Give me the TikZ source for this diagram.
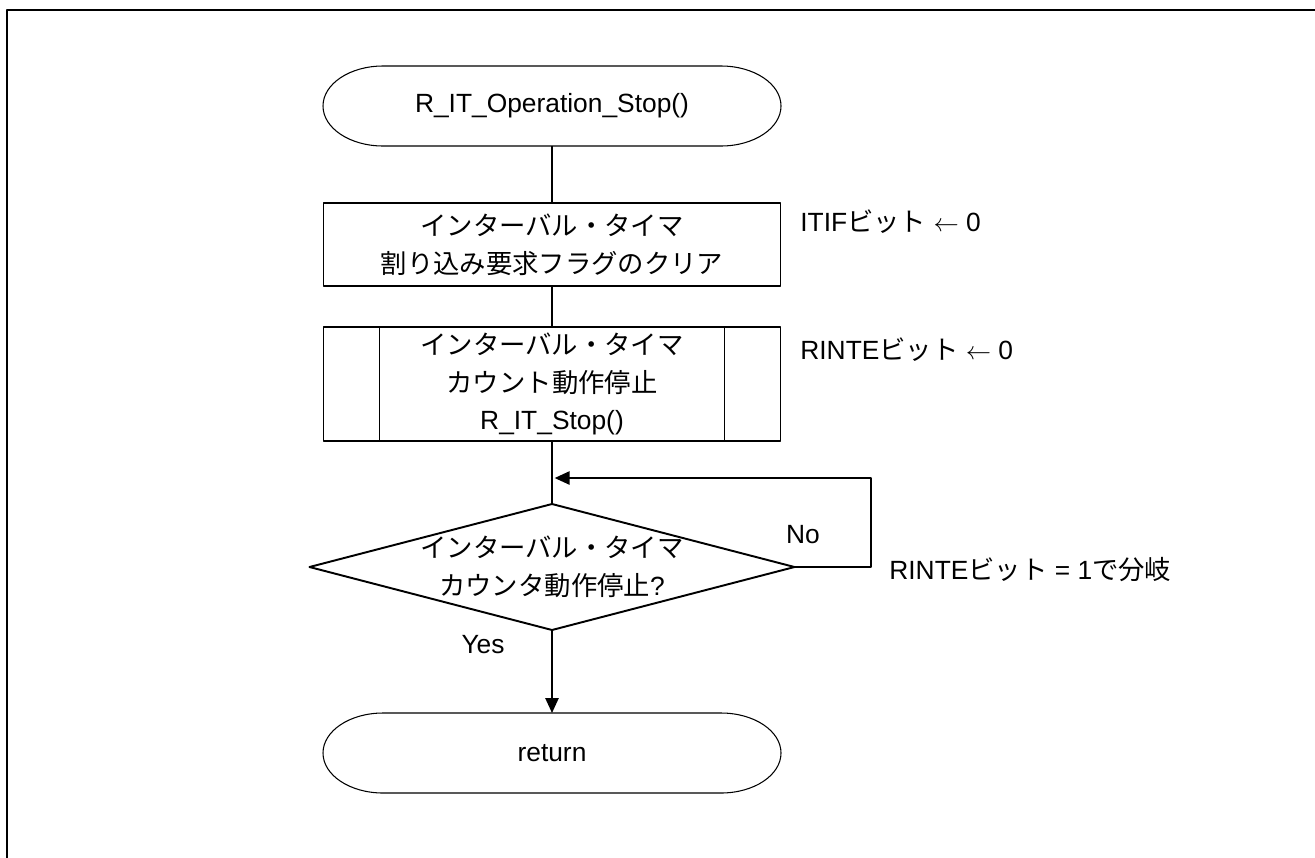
\documentclass[tikz,border=0pt]{standalone}
\usepackage{fontspec}
\setmainfont{Liberation Sans}
\newfontfamily\jp{Noto Sans CJK JP}
\usetikzlibrary{arrows.meta}

% start/end symbol: straight top and bottom, elliptic ends
\newcommand{\termnode}[3]{%
	\node[term] (#1) at (#2) {#3};
	\draw[line width=0.6pt] ([xshift=1.2cm]#1.north west) -- ([xshift=-1.2cm]#1.north east)
		arc[start angle=90,end angle=-90,x radius=1.2cm,y radius=0.8cm]
		-- ([xshift=1.2cm]#1.south west)
		arc[start angle=270,end angle=90,x radius=1.2cm,y radius=0.8cm] -- cycle;}

\begin{document}
\begin{tikzpicture}[>={Triangle[length=8.5pt,width=7.5pt]}, line join=round, font=\fontsize{15}{21.5}\selectfont,
	term/.style={minimum width=9.16cm, minimum height=1.6cm, inner sep=0pt, outer sep=0pt},
	proc/.style={draw, line width=1.1pt, minimum width=9.14cm, align=center, outer sep=0pt},
	dtext/.style={minimum width=9.7cm, minimum height=2.52cm, align=center, inner sep=0pt, outer sep=0pt},
	line/.style={line width=1.1pt},
	note/.style={anchor=west, inner sep=0pt}]
	\def\cx{11.04}
	\useasboundingbox (0,0) rectangle (26.3,-17.14);
	\draw[line width=1.7pt] (0.14,-17.4) -- (0.14,-0.2) -- (26.6,-0.2);
	
	\termnode{start}{\cx,-2.12}{R\_IT\_Operation\_Stop()}
	\node[proc, minimum height=1.66cm] (clr) at (\cx,-4.89) {{\jp インターバル・タイマ}\\{\jp 割り込み要求フラグのクリア}};
	\node[proc, minimum height=2.28cm] (stp) at (\cx,-7.68) {{\jp インターバル・タイマ}\\{\jp カウント動作停止}\\R\_IT\_Stop()};
	\draw[line] ([xshift=1.12cm]stp.north west) -- ([xshift=1.12cm]stp.south west)
		([xshift=-1.12cm]stp.north east) -- ([xshift=-1.12cm]stp.south east);
	\node[dtext] (chk) at (\cx,-11.34) {{\jp インターバル・タイマ}\\{\jp カウンタ動作停止}?};
	\draw[line] (chk.north) -- (chk.east) -- (chk.south) -- (chk.west) -- cycle;
	\termnode{ret}{\cx,-15.06}{return}
	
	\coordinate (lp) at (17.42,-9.56);
	\draw[line] (start) -- (clr);
	\draw[line] (clr) -- (stp);
	\draw[line] (stp) -- (chk.north);
	\draw[line,->,shorten >=1.5pt] (chk.east) -- (chk.east -| lp) -- (lp) -- (lp -| chk.north);
	\draw[line,->] (chk.south) -- (ret.north);
	
	\node[note] (n1) at (16.0,-4.44) {ITIF{\jp ビット} $\leftarrow$ 0};
	\node[note] (n2) at (16.0,-7.0) {RINTE{\jp ビット} $\leftarrow$ 0};
	\node (no) at (16.06,-10.7) {No};
	\node[note] (n3) at (17.78,-11.4) {RINTE{\jp ビット} = 1{\jp で分岐}};
	\node (yes) at (9.66,-12.9) {Yes};
\end{tikzpicture}
\end{document}
